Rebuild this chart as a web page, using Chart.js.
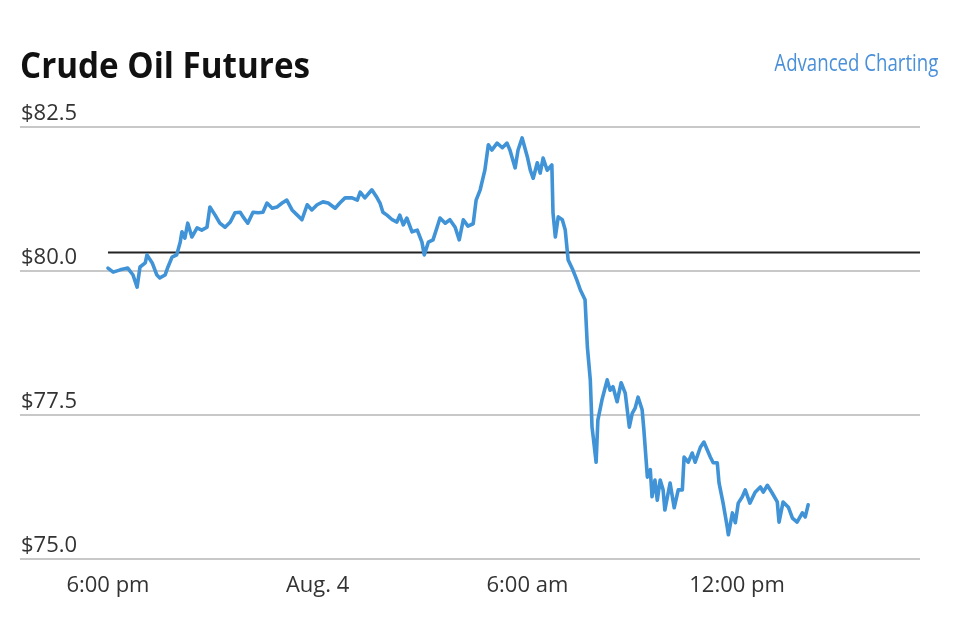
<!DOCTYPE html>
<html><head><meta charset="utf-8">
<script src="https://cdn.jsdelivr.net/npm/chart.js@4"></script>
<style>
html,body{margin:0;padding:0;background:#fff;}
#wrap{position:relative;width:962px;height:624px;overflow:hidden;}
#chart{position:absolute;left:0;top:0;}
#title{position:absolute;left:20px;top:47px;font:700 35px/1 'Open Sans',sans-serif;color:#111;white-space:nowrap;transform-origin:left center;}
#link{position:absolute;right:24px;top:51px;font:400 23px/1 'Open Sans',sans-serif;color:#4a90d9;white-space:nowrap;transform-origin:right center;}
</style></head>
<body>
<div id="wrap">
<canvas id="chart" width="962" height="624"></canvas>
<div id="title">Crude Oil Futures</div>
<div id="link">Advanced Charting</div>
</div>
<script>
// minutes since 6:00 pm (Aug. 3)
const minutes = [0,9,21,34,43,50,55,64,67,76,84,89,98,103,110,118,124,127,132,137,144,153,161,170,175,184,192,201,210,218,227,232,240,249,258,266,273,282,290,299,307,316,325,333,342,350,359,369,378,390,398,407,419,428,433,441,453,462,467,472,479,488,496,501,507,513,522,531,539,543,550,558,565,570,579,587,596,603,610,618,627,632,639,647,653,659,668,677,685,690,699,704,711,720,725,730,737,742,747,754,762,764,768,773,780,785,790,798,805,811,819,823,828,831,833,838,841,848,857,862,867,874,881,888,895,900,905,910,917,920,926,931,934,939,943,948,953,956,965,972,979,986,989,996,1003,1008,1017,1023,1034,1039,1046,1049,1056,1063,1065,1072,1077,1082,1089,1094,1102,1111,1120,1125,1132,1140,1149,1152,1159,1168,1175,1183,1192,1197,1202];
const prices = [80.05,79.98,80.02,80.05,79.93,79.72,80.07,80.14,80.28,80.14,79.93,79.88,79.93,80.07,80.24,80.28,80.50,80.68,80.57,80.83,80.59,80.75,80.71,80.76,81.11,80.97,80.83,80.76,80.85,81.01,81.02,80.94,80.83,81.02,81.01,81.02,81.18,81.09,81.11,81.18,81.23,81.06,80.97,80.89,81.15,81.06,81.15,81.20,81.18,81.09,81.18,81.27,81.27,81.23,81.37,81.27,81.41,81.27,81.18,81.02,80.97,80.89,80.85,80.97,80.80,80.92,80.68,80.71,80.50,80.28,80.50,80.54,80.76,80.92,80.83,80.89,80.76,80.54,80.89,80.78,80.82,81.23,81.41,81.75,82.19,82.10,82.22,82.14,82.22,82.10,81.79,82.10,82.31,81.98,81.75,81.61,81.88,81.70,81.96,81.75,81.84,81.01,80.59,80.94,80.89,80.71,80.19,80.02,79.84,79.67,79.50,78.68,78.11,77.29,77.12,76.68,77.41,77.76,78.11,77.93,77.99,77.73,78.06,77.88,77.29,77.53,77.62,77.81,77.59,77.24,76.42,76.55,76.08,76.37,76.02,76.37,76.20,75.85,76.32,75.89,76.20,76.20,76.77,76.68,76.84,76.68,76.94,77.03,76.77,76.67,76.67,76.32,75.97,75.56,75.42,75.80,75.63,75.97,76.08,76.20,75.97,76.16,76.25,76.16,76.28,76.15,75.99,75.64,75.99,75.90,75.71,75.64,75.80,75.73,75.94];
const previousClose = 80.32;
const sessionEnd = 1394;
const axisStart = -151;
const xTickMinutes = [0, 360, 720, 1080];
const xTickLabels = ['6:00 pm', 'Aug. 4', '6:00 am', '12:00 pm'];
const yTicks = [75, 77.5, 80, 82.5];

const labelFont = {family: "'Open Sans', sans-serif", size: 22};

new Chart(document.getElementById('chart'), {
  type: 'line',
  data: {
    datasets: [
      {
        data: minutes.map((m, i) => ({x: m, y: prices[i]})),
        borderColor: '#3f93d6',
        borderWidth: 3.6,
        borderJoinStyle: 'round',
        borderCapStyle: 'round',
        pointRadius: 0,
        tension: 0,
        fill: false
      },
      {
        data: [{x: 0, y: previousClose}, {x: sessionEnd, y: previousClose}],
        borderColor: '#222222',
        borderWidth: 2,
        pointRadius: 0,
        fill: false
      }
    ]
  },
  options: {
    responsive: false,
    animation: false,
    layout: {padding: {top: 127, left: 20, right: 42, bottom: 0}},
    plugins: {legend: {display: false}, tooltip: {enabled: false}},
    scales: {
      x: {
        type: 'linear',
        min: axisStart,
        max: sessionEnd,
        grid: {display: false},
        border: {display: false},
        afterBuildTicks: s => { s.ticks = xTickMinutes.map(v => ({value: v})); },
        afterFit: s => { s.height = 65; },
        ticks: {
          font: labelFont, color: '#333', padding: 6, maxRotation: 0, autoSkip: false,
          callback: v => xTickLabels[xTickMinutes.indexOf(v)]
        }
      },
      y: {
        min: 75,
        max: 82.5,
        grid: {color: '#c8c8c8', lineWidth: 2, drawTicks: false},
        border: {display: false},
        afterBuildTicks: s => { s.ticks = yTicks.map(v => ({value: v})); },
        afterFit: s => { s.width = 0; },
        ticks: {
          mirror: true, padding: 1, labelOffset: -13,
          font: labelFont, color: '#333',
          callback: v => '$' + Number(v).toFixed(1)
        }
      }
    }
  }
});

function fitWidth(el, w) {
  const cur = el.getBoundingClientRect().width;
  if (cur > 0) el.style.transform = 'scaleX(' + (w / cur) + ')';
}
fitWidth(document.getElementById('title'), 290);
fitWidth(document.getElementById('link'), 164);
</script>
</body></html>
